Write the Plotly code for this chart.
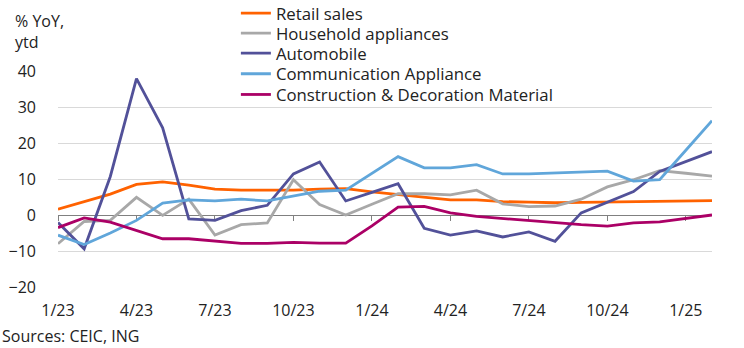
import plotly.graph_objects as go

months = ["1/23", "2/23", "3/23", "4/23", "5/23", "6/23", "7/23", "8/23", "9/23", "10/23", "11/23", "12/23",
          "1/24", "2/24", "3/24", "4/24", "5/24", "6/24", "7/24", "8/24", "9/24", "10/24", "11/24", "12/24",
          "1/25", "2/25"]
tick_labels = ["1/23", "4/23", "7/23", "10/23", "1/24", "4/24", "7/24", "10/24", "1/25"]

retail_sales = [1.6, 3.6, 5.8, 8.5, 9.2, 8.3, 7.2, 6.9, 6.9, 6.9, 7.2, 7.3,
                6.4, 5.6, 4.8, 4.2, 4.2, 3.7, 3.6, 3.4, 3.5, 3.6, 3.6, 3.6, 3.7, 4.0]
household_appliances = [-8.0, -1.8, -1.5, 4.9, -0.1, 4.4, -5.6, -2.7, -2.2, 9.8, 2.9, 0.0,
                        3.0, 5.9, 5.9, 5.6, 6.9, 3.1, 2.3, 2.5, 4.4, 7.8, 9.8, 12.3, 11.6, 10.8]
automobile = [-2.1, -9.4, 10.7, 37.9, 24.2, -1.1, -1.5, 1.2, 2.7, 11.4, 14.7, 3.9,
              6.3, 8.7, -3.7, -5.6, -4.4, -6.1, -4.7, -7.3, 0.6, 3.6, 6.5, 12.1, 14.8, 17.6]
communication_appliance = [-5.6, -8.2, -5.0, -1.5, 3.3, 4.2, 3.9, 4.4, 3.9, 5.2, 6.6, 6.9,
                           11.6, 16.2, 13.1, 13.1, 14.0, 11.4, 11.4, 11.7, 11.9, 12.2, 9.4, 9.8, 18.0, 26.2]
construction_decoration = [-3.5, -0.8, -2.0, -4.4, -6.6, -6.6, -7.2, -7.9, -7.9, -7.6, -7.8, -7.8,
                           -3.0, 2.2, 2.4, 0.6, -0.4, -1.0, -1.4, -2.0, -2.7, -3.1, -2.2, -1.9, -1.0, 0.0]

series = [
    ("Retail sales", retail_sales, "#FF6200"),
    ("Household appliances", household_appliances, "#A8A8A8"),
    ("Automobile", automobile, "#525199"),
    ("Communication Appliance", communication_appliance, "#60A6DA"),
    ("Construction & Decoration Material", construction_decoration, "#AB0066"),
]

FONT = "Open Sans"
TXT = "#222222"

# legend row centres (paper y); one legend per series so rows can be spaced like the original
legend_rows = [1.268, 1.175, 1.082, 0.987, 0.891]
legend_ids = ["legend", "legend2", "legend3", "legend4", "legend5"]

fig = go.Figure()
for (name, vals, color), lid in zip(series, legend_ids):
    fig.add_trace(go.Scatter(x=months, y=vals, name=name, mode="lines", legend=lid,
                             line=dict(color=color, width=2.8), hoverinfo="skip"))

# helper trace so the zero-crossing axis carries the same categories
fig.add_trace(go.Scatter(x=months, y=[None] * len(months), xaxis="x2", showlegend=False,
                         hoverinfo="skip", mode="lines"))

legend_common = dict(x=0.272, xanchor="left", yanchor="middle", bgcolor="rgba(0,0,0,0)",
                     font=dict(size=16.8, family=FONT, color=TXT), itemwidth=30)
legends = {lid: dict(legend_common, y=ly) for lid, ly in zip(legend_ids, legend_rows)}

fig.update_layout(
    width=744, height=348,
    margin=dict(l=58, r=32, t=71, b=61, autoexpand=False),
    paper_bgcolor="white", plot_bgcolor="white",
    font=dict(family=FONT, color=TXT, size=16),
    showlegend=True,
    xaxis=dict(type="category", categoryorder="array", categoryarray=months,
               range=[0, len(months) - 1], tickmode="array", tickvals=tick_labels,
               ticktext=tick_labels, showgrid=False, zeroline=False, showline=False,
               ticks="", ticklabelstandoff=12, tickfont=dict(size=16, family=FONT, color=TXT)),
    xaxis2=dict(type="category", categoryorder="array", categoryarray=months,
                range=[0, len(months) - 1], overlaying="x", anchor="free", position=1 / 3,
                tickmode="array", tickvals=tick_labels, showticklabels=False,
                ticks="outside", ticklen=5, tickwidth=1, tickcolor="#808080",
                showline=True, linecolor="#808080", linewidth=1, showgrid=False,
                zeroline=False, layer="below traces"),
    yaxis=dict(range=[-20, 40], tickvals=[-20, -10, 0, 10, 20, 30, 40], showgrid=True,
               gridcolor="#D9D9D9", gridwidth=1, zeroline=False, showline=False, ticks="",
               ticklabelstandoff=21, tickfont=dict(size=16, family=FONT, color=TXT)),
    annotations=[
        dict(text="% YoY,<br>ytd", xref="paper", yref="paper", x=-0.0688, y=1.29,
             xanchor="left", yanchor="top", showarrow=False, align="left",
             font=dict(size=16, family=FONT, color=TXT)),
        dict(text="Sources: CEIC, ING", xref="paper", yref="paper", x=-0.0887, y=-0.2287,
             xanchor="left", yanchor="middle", showarrow=False, align="left",
             font=dict(size=16, family=FONT, color=TXT)),
    ],
    **legends,
)

fig.write_html("out.html")
